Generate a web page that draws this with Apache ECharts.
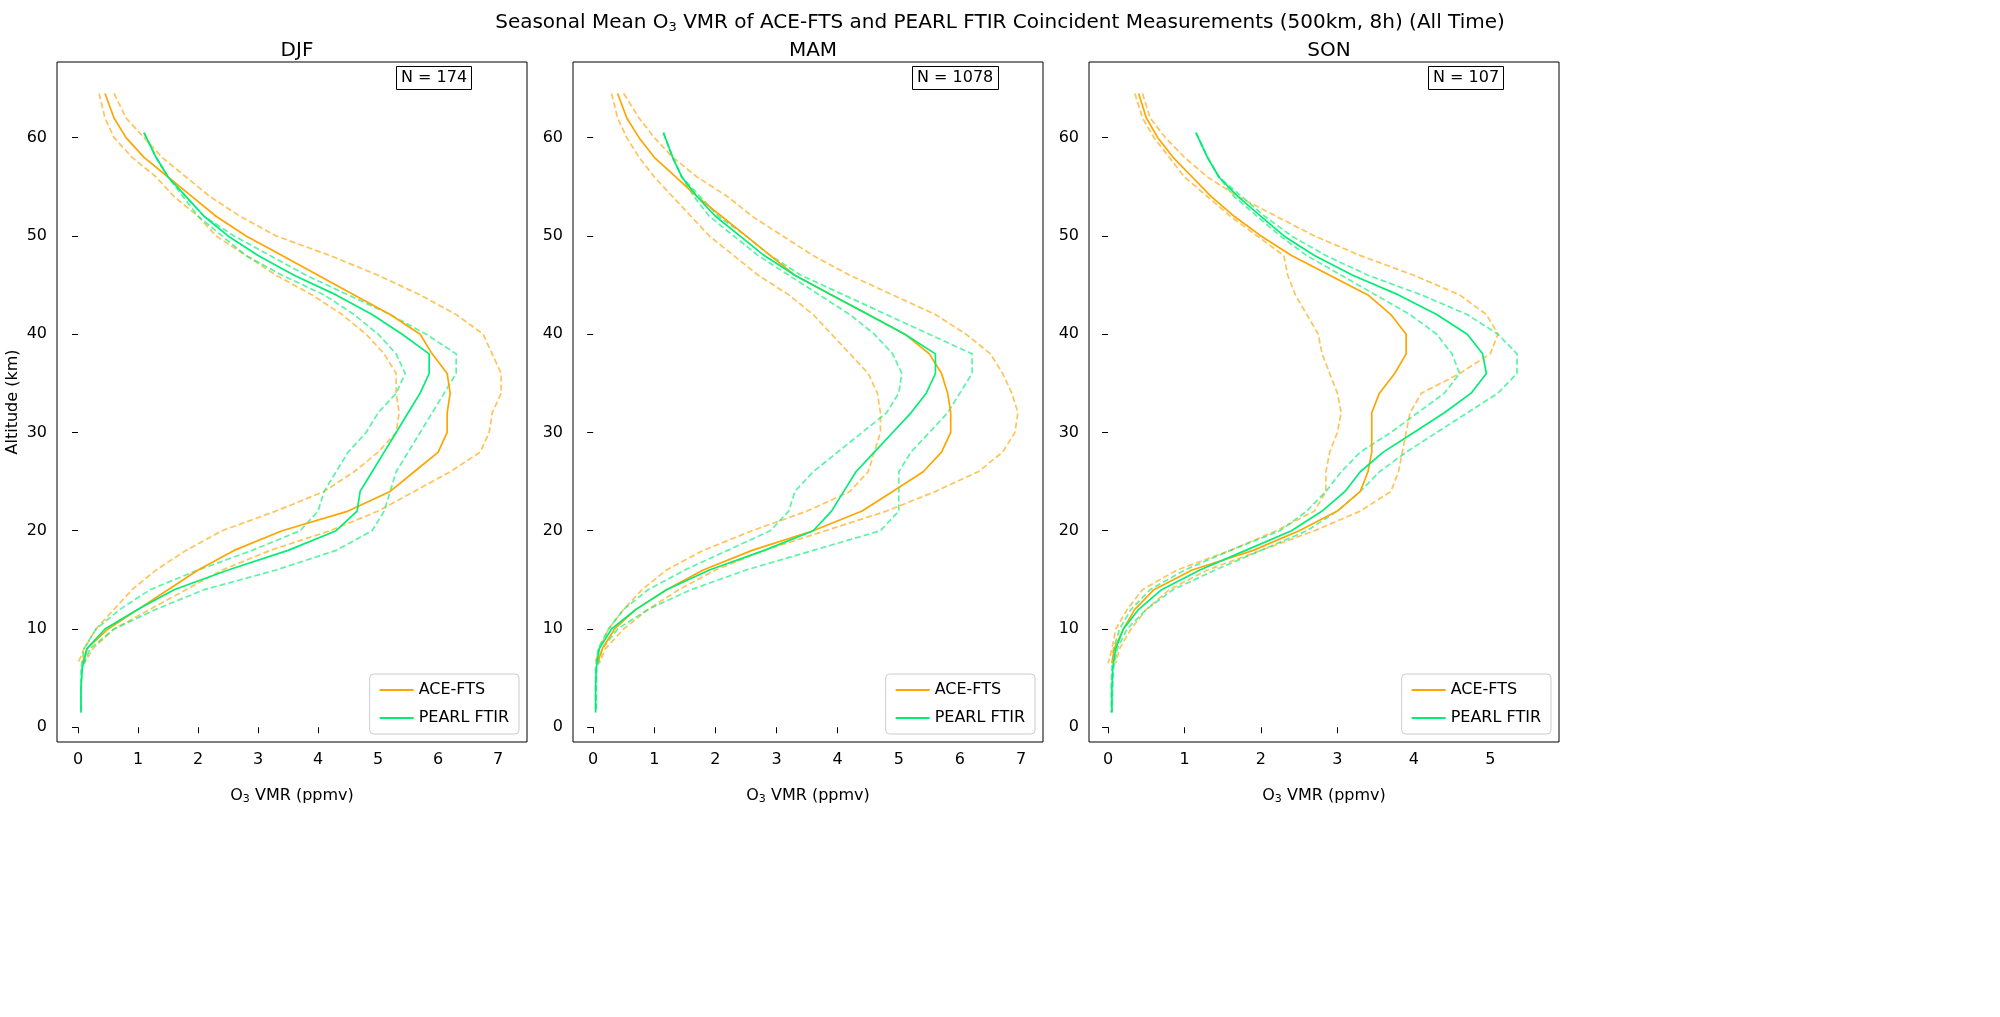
<!DOCTYPE html>
<html><head><meta charset="utf-8">
<script src="https://cdn.jsdelivr.net/npm/echarts@6/dist/echarts.min.js"></script>
<style>html,body{margin:0;padding:0;background:#fff}#c{width:2000px;height:1017px}</style>
</head><body><div id="c"></div>
<script>
// altitude grids (km)
const aceAlt = [64.5,62,60,58,56,54,52,50,48,46,44,42,40,38,36,34,32,30,28,26,24,22,20,18,16,14,12,10,8,6.5];
const pearlAlt = [60.5,58,56,54,52,50,48,46,44,42,40,38,36,34,32,30,28,26,24,22,20,18,16,14,12,10,8,6,4,1.5];

const seasons = ['DJF', 'MAM', 'SON'];
const counts = [174, 1078, 107];
const xMax = [7.48, 7.36, 5.9];
const xMin = [-0.35, -0.33, -0.25];
const xTicks = [[0,1,2,3,4,5,6,7], [0,1,2,3,4,5,6,7], [0,1,2,3,4,5]];
const yTicks = [0,10,20,30,40,50,60];

// DJF
const djfAce = [0.45,0.6,0.8,1.1,1.5,1.9,2.3,2.8,3.4,4.0,4.6,5.2,5.7,5.9,6.15,6.2,6.15,6.15,6.0,5.6,5.2,4.5,3.4,2.6,2.0,1.5,1.0,0.5,0.15,0.07];
const djfAceHi = [0.6,0.8,1.1,1.4,1.8,2.2,2.7,3.3,4.2,5.0,5.7,6.3,6.75,6.9,7.05,7.05,6.9,6.85,6.7,6.2,5.6,5.0,4.2,3.2,2.4,1.8,1.2,0.6,0.25,0.1];
const djfAceLo = [0.35,0.45,0.6,0.9,1.3,1.6,2.0,2.3,2.8,3.3,3.9,4.4,4.8,5.1,5.3,5.3,5.35,5.3,5.0,4.6,4.1,3.3,2.4,1.8,1.3,0.9,0.6,0.3,0.1,0.0];
const djfPearl = [1.1,1.3,1.5,1.8,2.1,2.5,3.0,3.6,4.3,4.9,5.4,5.85,5.85,5.7,5.5,5.3,5.1,4.9,4.7,4.65,4.3,3.5,2.5,1.6,1.0,0.45,0.15,0.07,0.05,0.05];
const djfPearlHi = [1.1,1.3,1.5,1.8,2.1,2.6,3.2,3.8,4.5,5.2,5.8,6.3,6.3,6.1,5.9,5.7,5.5,5.3,5.2,5.1,4.9,4.3,3.3,2.1,1.3,0.6,0.2,0.07,0.05,0.05];
const djfPearlLo = [1.1,1.3,1.5,1.75,2.0,2.4,2.8,3.4,4.1,4.6,5.0,5.3,5.45,5.3,5.0,4.8,4.5,4.3,4.1,4.0,3.7,2.9,2.0,1.2,0.7,0.3,0.1,0.05,0.05,0.05];

// MAM
const mamAce = [0.4,0.55,0.75,1.0,1.35,1.7,2.1,2.5,2.9,3.3,3.9,4.5,5.1,5.5,5.7,5.8,5.85,5.85,5.7,5.4,4.9,4.4,3.6,2.6,1.8,1.2,0.7,0.35,0.15,0.07];
const mamAceHi = [0.5,0.75,1.0,1.3,1.7,2.2,2.6,3.1,3.6,4.2,4.9,5.6,6.1,6.5,6.7,6.85,6.95,6.9,6.7,6.3,5.6,4.8,3.8,2.8,2.0,1.4,0.9,0.5,0.2,0.1];
const mamAceLo = [0.3,0.4,0.55,0.75,1.0,1.3,1.6,1.9,2.3,2.7,3.2,3.6,3.9,4.2,4.5,4.65,4.7,4.7,4.6,4.5,4.2,3.5,2.6,1.8,1.2,0.8,0.5,0.25,0.1,0.03];
const mamPearl = [1.15,1.3,1.45,1.7,2.0,2.4,2.8,3.3,3.9,4.5,5.1,5.6,5.6,5.45,5.2,4.9,4.6,4.3,4.1,3.9,3.6,2.8,1.9,1.2,0.7,0.3,0.1,0.05,0.04,0.04];
const mamPearlHi = [1.15,1.3,1.45,1.75,2.05,2.5,2.9,3.4,4.1,4.8,5.5,6.2,6.2,6.0,5.8,5.5,5.2,5.0,5.0,5.0,4.7,3.6,2.5,1.6,0.9,0.4,0.15,0.06,0.05,0.05];
const mamPearlLo = [1.15,1.3,1.45,1.65,1.9,2.3,2.7,3.2,3.7,4.2,4.6,4.9,5.05,5.0,4.8,4.4,4.0,3.6,3.3,3.2,2.9,2.2,1.5,0.9,0.5,0.25,0.08,0.04,0.04,0.04];

// SON
const sonAce = [0.4,0.5,0.65,0.85,1.1,1.35,1.65,2.0,2.4,2.9,3.4,3.7,3.9,3.9,3.75,3.55,3.45,3.45,3.45,3.4,3.3,3.0,2.5,1.9,1.1,0.6,0.35,0.2,0.08,0.05];
const sonAceHi = [0.45,0.55,0.75,1.0,1.3,1.7,2.2,2.7,3.3,4.0,4.6,4.95,5.1,5.0,4.6,4.1,3.95,3.9,3.85,3.8,3.7,3.3,2.7,2.0,1.3,0.8,0.5,0.3,0.15,0.1];
const sonAceLo = [0.35,0.45,0.6,0.8,1.0,1.3,1.6,1.95,2.3,2.35,2.45,2.6,2.75,2.8,2.9,3.0,3.05,3.0,2.9,2.85,2.85,2.7,2.2,1.6,0.9,0.45,0.25,0.1,0.05,0.0];
const sonPearl = [1.15,1.3,1.45,1.7,2.0,2.3,2.7,3.2,3.8,4.3,4.7,4.9,4.95,4.75,4.4,4.0,3.6,3.3,3.1,2.8,2.4,1.8,1.2,0.7,0.4,0.2,0.1,0.06,0.05,0.05];
const sonPearlHi = [1.15,1.3,1.45,1.75,2.05,2.4,2.85,3.4,4.1,4.7,5.1,5.35,5.35,5.1,4.7,4.3,3.9,3.55,3.3,3.0,2.6,2.0,1.4,0.85,0.5,0.25,0.12,0.07,0.06,0.05];
const sonPearlLo = [1.15,1.3,1.45,1.65,1.95,2.25,2.6,3.05,3.5,3.95,4.3,4.5,4.6,4.4,4.05,3.7,3.3,3.05,2.85,2.6,2.25,1.6,1.0,0.55,0.3,0.15,0.07,0.05,0.04,0.04];

const panelData = [
	[djfAce, djfAceHi, djfAceLo, djfPearl, djfPearlHi, djfPearlLo],
	[mamAce, mamAceHi, mamAceLo, mamPearl, mamPearlHi, mamPearlLo],
	[sonAce, sonAceHi, sonAceLo, sonPearl, sonPearlHi, sonPearlLo]
];

const ORANGE = '#FFA500';
const GREEN = '#00EE76';
const gridLeft = [57, 573, 1089];
const font = 'DejaVu Sans';

function pairs(xs, alts) {
	return xs.map((x, i) => [x, alts[i]]);
}

const chart = echarts.init(document.getElementById('c'));
let grids = [], xAxes = [], yAxes = [], series = [], titles = [], legends = [];

titles.push({
	text: 'Seasonal Mean O{s|3} VMR of ACE-FTS and PEARL FTIR Coincident Measurements (500km, 8h) (All Time)',
	left: 'center', top: 6,
	textStyle: {fontFamily: font, fontWeight: 'normal', fontSize: 20, color: '#000',
		rich: {s: {fontSize: 13, verticalAlign: 'bottom', padding: [10, 0, 0, 0], fontFamily: font}}}
});

seasons.forEach((s, i) => {
	grids.push({left: gridLeft[i], top: 62, width: 470, height: 680, show: true, borderColor: '#000', borderWidth: 1, backgroundColor: 'transparent'});
	xAxes.push({
		type: 'value', gridIndex: i, min: xMin[i], max: xMax[i],
		name: 'O{s|3} VMR (ppmv)', nameLocation: 'middle', nameGap: 44,
		nameTextStyle: {fontFamily: font, fontSize: 16, color: '#000', rich: {s: {fontSize: 11, padding: [8, 0, 0, 0], fontFamily: font}}},
		axisLine: {show: false},
		axisTick: {show: true, length: 6, customValues: xTicks[i], lineStyle: {color: '#000'}},
		axisLabel: {fontFamily: font, fontSize: 16, color: '#000', customValues: xTicks[i], margin: 10},
		splitLine: {show: false}
	});
	yAxes.push({
		type: 'value', gridIndex: i, min: -1.5, max: 67.7,
		name: i === 0 ? 'Altitude (km)' : '', nameLocation: 'middle', nameGap: 36,
		nameTextStyle: {fontFamily: font, fontSize: 16, color: '#000'},
		axisLine: {show: false},
		axisTick: {show: true, length: 6, customValues: yTicks, lineStyle: {color: '#000'}},
		axisLabel: {fontFamily: font, fontSize: 16, color: '#000', customValues: yTicks, margin: 10},
		splitLine: {show: false}
	});
	titles.push({text: s, left: gridLeft[i] + 235, textAlign: 'center', top: 36,
		textStyle: {fontFamily: font, fontWeight: 'normal', fontSize: 20, color: '#000'}});
	titles.push({text: 'N = ' + counts[i], left: gridLeft[i] + 339, top: 66, padding: [4, 5],
		borderColor: '#000', borderWidth: 1, backgroundColor: '#fff',
		textStyle: {fontFamily: font, fontWeight: 'normal', fontSize: 16, color: '#000'}});
	legends.push({
		data: ['ACE-FTS', 'PEARL FTIR'], orient: 'vertical', right: 2000 - gridLeft[i] - 470 + 8, bottom: 1017 - 742 + 8,
		itemWidth: 34, itemHeight: 2, icon: 'rect', itemGap: 12, padding: [8, 10],
		borderColor: '#ccc', borderWidth: 1, borderRadius: 4, backgroundColor: '#fff',
		textStyle: {fontFamily: font, fontSize: 16, color: '#000'}, selectedMode: false
	});
	const d = panelData[i];
	const mk = (name, xs, alts, color, dashed) => ({
		name: name, type: 'line', xAxisIndex: i, yAxisIndex: i, data: pairs(xs, alts),
		showSymbol: false, symbol: 'none', smooth: false, silent: true,
		lineStyle: {color: color, width: 1.7, type: dashed ? [6, 3] : 'solid', opacity: dashed ? 0.65 : 1},
		itemStyle: {color: color}, z: dashed ? 2 : 3
	});
	series.push(mk('ACE-FTS', d[0], aceAlt, ORANGE, false));
	series.push(mk('ACE-FTS hi', d[1], aceAlt, ORANGE, true));
	series.push(mk('ACE-FTS lo', d[2], aceAlt, ORANGE, true));
	series.push(mk('PEARL FTIR', d[3], pearlAlt, GREEN, false));
	series.push(mk('PEARL FTIR hi', d[4], pearlAlt, GREEN, true));
	series.push(mk('PEARL FTIR lo', d[5], pearlAlt, GREEN, true));
});

chart.setOption({
	animation: false,
	backgroundColor: '#fff',
	title: titles,
	legend: legends,
	grid: grids,
	xAxis: xAxes,
	yAxis: yAxes,
	series: series
});
</script>
</body></html>
